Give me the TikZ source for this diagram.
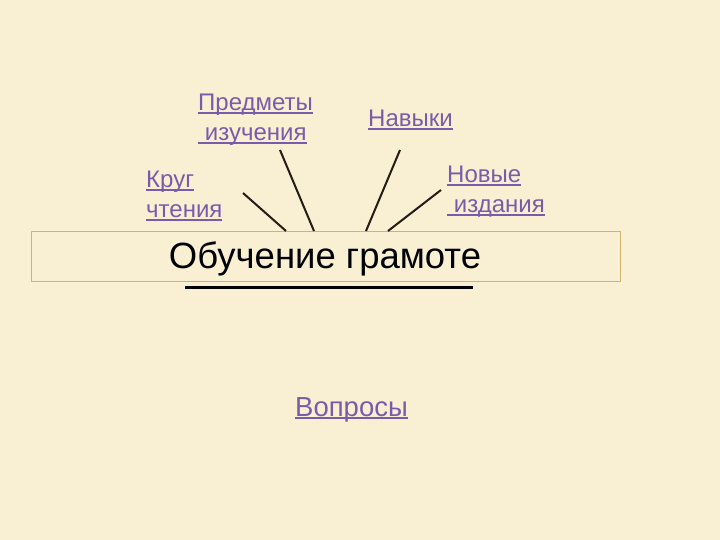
\documentclass[tikz,border=0pt]{standalone}
\usepackage{fontspec}
\setmainfont{Liberation Sans}
\definecolor{bgc}{RGB}{249,240,212}
\definecolor{lnkc}{RGB}{120,92,170}
\definecolor{boxc}{RGB}{210,178,110}
\definecolor{rayc}{RGB}{35,28,20}
\newcommand\lnk[1]{\setbox0\hbox{#1}\rlap{\rule[-2.6pt]{\wd0}{1.4pt}}\box0}
\begin{document}
\begin{tikzpicture}[x=1pt,y=-1pt,
  lbl/.style={anchor=base west,inner sep=0pt,text=lnkc,align=left,font=\fontsize{24}{30}\selectfont},
  ray/.style={draw=rayc,line width=2pt}]
\fill[bgc] (0,0) rectangle (720,540);
\useasboundingbox (0,0) rectangle (720,540);
% central box
\node[draw=boxc,line width=0.8pt,fill=bgc,minimum width=589pt,minimum height=50pt,inner sep=0pt] (box) at (325.5,256) {};
\node[anchor=base,inner sep=0pt,font=\fontsize{36.5}{40}\selectfont] (title) at (325,268) {Обучение грамоте};
\coordinate (u1) at (185,287);
\coordinate (u2) at (473,287);
\draw[line width=3pt] (u1) -- (u2);
% labels
\node[lbl] (pred) at (198,141) {\lnk{Предметы}\\\lnk{\ изучения}};
\node[lbl] (nav) at (368,127) {\lnk{Навыки}};
\node[lbl] (krug) at (146,218) {\lnk{Круг}\\\lnk{чтения}};
\node[lbl] (nov) at (447,213) {\lnk{Новые}\\\lnk{\ издания}};
\node[lbl,font=\fontsize{27.5}{30}\selectfont] (vop) at (295,416) {\lnk{Вопросы}};
% ray ends
\coordinate (p1) at (280,150); \coordinate (p2) at (314,231);
\coordinate (k1) at (243,193); \coordinate (k2) at (286,231);
\coordinate (n1) at (400,150); \coordinate (n2) at (366,231);
\coordinate (w1) at (441,190); \coordinate (w2) at (388,231);
\draw[ray] (p1) -- (p2);
\draw[ray] (k1) -- (k2);
\draw[ray] (n1) -- (n2);
\draw[ray] (w1) -- (w2);
\end{tikzpicture}
\end{document}
